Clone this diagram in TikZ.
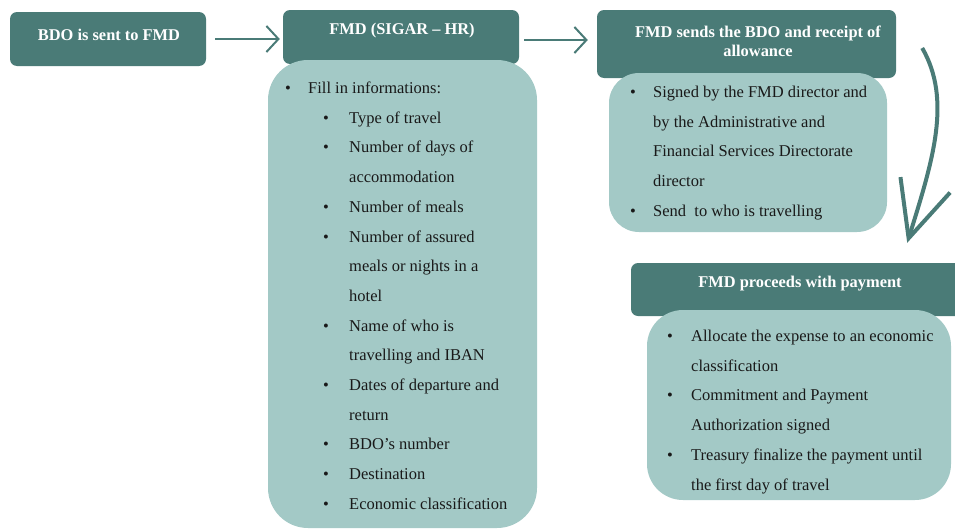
\documentclass[tikz,border=0pt]{standalone}
\usepackage{fontspec}
\setmainfont{Liberation Serif}
\usetikzlibrary{arrows.meta, positioning, calc}
\definecolor{tealdark}{HTML}{4A7B77}
\definecolor{teallight}{HTML}{A3C9C6}

\begin{document}
\begin{tikzpicture}[x=1pt, y=-1pt,
  darkbox/.style={fill=tealdark, rounded corners=7pt, inner sep=0pt},
  lightbox/.style={fill=teallight, inner sep=0pt},
  headtext/.style={text=white, font=\bfseries\fontsize{16.4}{19}\selectfont, align=center, inner sep=0pt},
  bodytext/.style={text=black!90, font=\fontsize{16.5}{29.7}\selectfont, inner sep=0pt, anchor=base west},
  flowarrow/.style={draw=tealdark, line width=2pt, -{Straight Barb[length=12pt, width=26pt]}},
  bendarrow/.style={draw=tealdark, line width=4pt, -{Straight Barb[length=56pt, width=52pt]}}]
\useasboundingbox (0,0) rectangle (955,530);

% Step 1: BDO is sent
\node[darkbox, minimum width=196pt, minimum height=54pt] (sent) at (108,39) {};
\node[headtext] (senttext) at (109,35) {BDO is sent to FMD};

% Step 2: FMD fills in the data
\node[darkbox, minimum width=236pt, minimum height=54pt] (fmd) at (401,37) {};
\node[headtext] (fmdtext) at (402,30.5) {FMD (SIGAR – HR)};
\node[lightbox, rounded corners=40pt, minimum width=269pt, minimum height=468pt] (fmdbox) at (402.5,294) {};
\node[bodytext] (fmdlist) at (285,93.5) {%
  \begin{tabular}[t]{@{}p{23pt}@{}p{15pt}@{}p{26pt}@{}l@{}}
  \textbullet & \multicolumn{3}{@{}l@{}}{Fill in informations:}\\
   & & \textbullet & Type of travel\\
   & & \textbullet & Number of days of\\
   & & & accommodation\\
   & & \textbullet & Number of meals\\
   & & \textbullet & Number of assured\\
   & & & meals or nights in a\\
   & & & hotel\\
   & & \textbullet & Name of who is\\
   & & & travelling and IBAN\\
   & & \textbullet & Dates of departure and\\
   & & & return\\
   & & \textbullet & BDO’s number\\
   & & \textbullet & Destination\\
   & & \textbullet & Economic classification
  \end{tabular}};

% Step 3: FMD sends the BDO
\node[darkbox, minimum width=299pt, minimum height=68pt] (sends) at (746.5,44) {};
\node[headtext] (sendstext) at (758,41.5) {FMD sends the BDO and receipt of\\allowance};
\node[lightbox, rounded corners=30pt, minimum width=278pt, minimum height=159pt] (sendsbox) at (748,152.5) {};
\node[bodytext] (sendslist) at (630,97.5) {%
  \begin{tabular}[t]{@{}p{23pt}@{}l@{}}
  \textbullet & Signed by the FMD director and\\
   & by the Administrative and\\
   & Financial Services Directorate\\
   & director\\
  \textbullet & Send\ \ to who is travelling
  \end{tabular}};

% Step 4: payment
\node[darkbox, minimum width=334pt, minimum height=53pt] (pay) at (798,289.5) {};
\node[headtext] (paytext) at (800,284) {FMD proceeds with payment};
\node[lightbox, rounded corners=36pt, minimum width=304pt, minimum height=190pt] (paybox) at (799,405) {};
\node[bodytext] (paylist) at (667,341.5) {%
  \begin{tabular}[t]{@{}p{24pt}@{}l@{}}
  \textbullet & Allocate the expense to an economic\\
   & classification\\
  \textbullet & Commitment and Payment\\
   & Authorization signed\\
  \textbullet & Treasury finalize the payment until\\
   & the first day of travel
  \end{tabular}};

% Arrows between the steps
\draw[flowarrow] ([xshift=9pt]sent.east) -- ([xshift=-3pt]sent.east -| fmd.west);
\draw[flowarrow] ([xshift=5pt, yshift=-3pt]fmd.east) -- ([xshift=-9pt, yshift=-3pt]fmd.east -| sends.west);
\draw[bendarrow] ([xshift=26pt, yshift=-4pt]sends.east) .. controls (952,100) and (933,160) .. ([xshift=-58pt, yshift=20pt]pay.north east);
\end{tikzpicture}
\end{document}
